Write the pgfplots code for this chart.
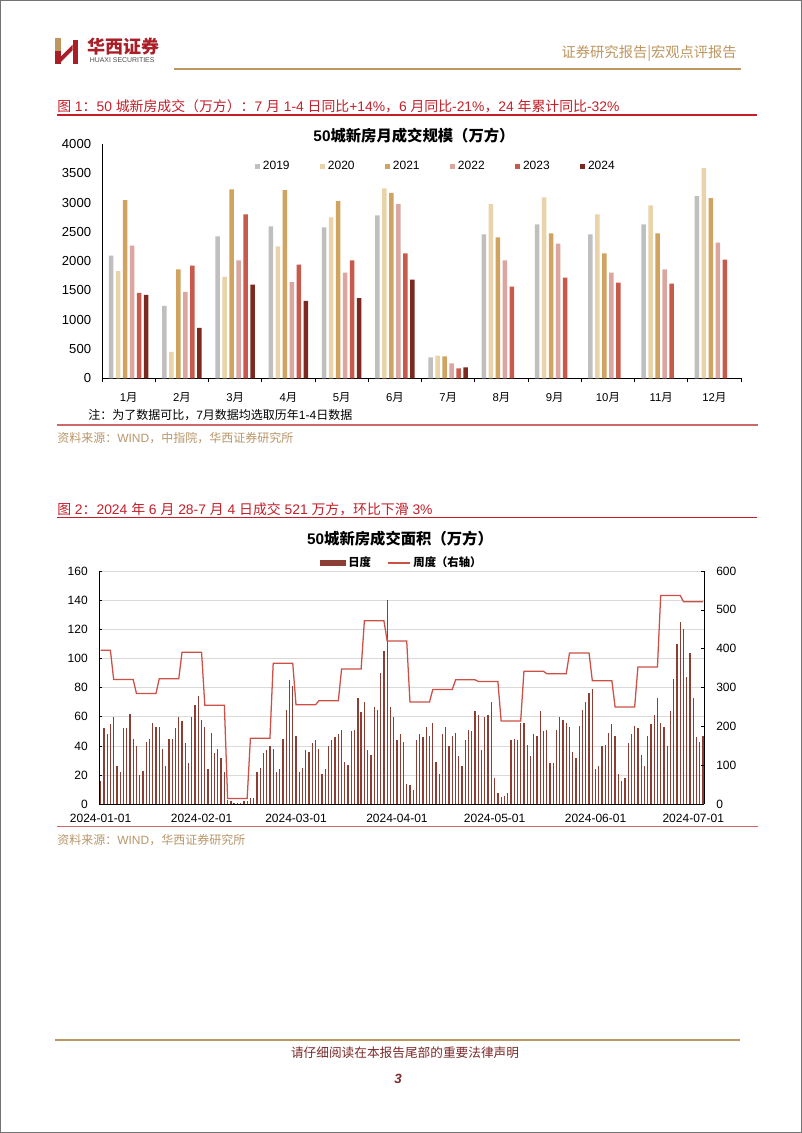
\documentclass[border=0pt]{standalone}
\usepackage{fontspec}
\setmainfont{Liberation Sans}
\newfontfamily\cjk{Noto Sans CJK SC}
\usepackage{pgfplots}
\pgfplotsset{compat=1.18}
\newcommand{\C}[1]{{\cjk #1}}

\definecolor{c19}{RGB}{191,191,191}
\definecolor{c20}{RGB}{233,211,168}
\definecolor{c21}{RGB}{208,164,96}
\definecolor{c22}{RGB}{219,166,160}
\definecolor{c23}{RGB}{200,90,76}
\definecolor{c24}{RGB}{124,42,32}
\definecolor{titlered}{RGB}{196,30,40}
\definecolor{linered}{RGB}{205,105,105}
\definecolor{gold}{RGB}{190,150,95}
\definecolor{srctan}{RGB}{185,150,105}
\definecolor{daybar}{RGB}{138,62,52}
\definecolor{weekline}{RGB}{205,80,70}
\definecolor{logored}{RGB}{170,30,40}
\definecolor{footred}{RGB}{125,40,40}
\definecolor{gridgray}{RGB}{217,217,217}

\pgfplotsset{sq/.style={legend image code/.code={\fill[#1] (0pt,-1.9pt) rectangle (3.75pt,1.9pt);}}}

\begin{document}
\begin{tikzpicture}[x=0.75pt,y=0.75pt]
\useasboundingbox (0,0) rectangle (802,1133);
\fill[white] (0,0) rectangle (802,1133);
\draw[black!55, line width=0.9pt] (0.6,0.6) rectangle (801.4,1132.4);

% logo
\fill[gold] (55,1095) rectangle (60.5,1082);
\fill[logored] (55,1082) rectangle (60.5,1069);
\fill[logored] (72.5,1093) rectangle (78,1069);
\fill[logored] (60.5,1076) -- (72.5,1088) -- (72.5,1082.5) -- (60.5,1070.5) -- cycle;
\node[anchor=west, inner sep=0, text=logored, font=\cjk\bfseries\fontsize{13.5}{14}\selectfont] at (87,1086.5) {华西证券};
\node[anchor=west, inner sep=0, text=black!70, font=\fontsize{5.2}{6}\selectfont] at (89.5,1072.5) {HUAXI SECURITIES};
\node[anchor=east, inner sep=0, text=gold, font=\cjk\fontsize{10.7}{12}\selectfont] at (737,1079.5) {证券研究报告|宏观点评报告};
\draw[gold, line width=1.3pt] (174,1063.7) -- (741,1063.7);

% figure 1 heading
\node[anchor=west, inner sep=0, text=titlered, font=\fontsize{10.4}{12}\selectfont] at (57,1027) {\C{图} 1\C{：}50 \C{城新房成交（万方）：}7 \C{月} 1-4 \C{日同比}+14\%\C{，}6 \C{月同比}-21\%\C{，}24 \C{年累计同比}-32\%};
\draw[titlered, line width=0.8pt] (57,1018) -- (757,1018);
\node[font=\bfseries\fontsize{11.5}{13}\selectfont] at (414,997) {50\C{城新房月成交规模（万方）}};

\begin{axis}[
  at={(76.5pt,566.025pt)}, anchor=south west,
  scale only axis, width=479.25pt, height=175.7pt,
  xmin=-0.5, xmax=11.5, ymin=0, ymax=4000,
  ybar=1.85pt, bar width=3.4pt,
  axis x line*=bottom, axis y line*=left,
  axis line style={black, line width=0.6pt},
  xtick={0,...,11},
  xticklabels={1\C{月},2\C{月},3\C{月},4\C{月},5\C{月},6\C{月},7\C{月},8\C{月},9\C{月},10\C{月},11\C{月},12\C{月}},
  minor xtick={-0.5,0.5,...,11.5},
  major x tick style={draw=none},
  minor x tick style={black, line width=0.6pt},
  minor tick length=3pt,
  tick align=outside,
  ytick={0,500,...,4000},
  major y tick style={draw=none},
  /pgf/number format/1000 sep={},
  /pgf/number format/assume math mode=true,
  yticklabel style={anchor=east, inner sep=0pt, xshift=-3.75pt, font=\fontsize{9.8}{11}\selectfont},
  xticklabel style={anchor=center, inner sep=0pt, yshift=-10.5pt, font=\fontsize{8.5}{10}\selectfont},
  legend columns=6,
  legend style={at={(0.2394,0.906)}, anchor=west, draw=none, fill=none, inner sep=0pt,
    font=\fontsize{9}{10}\selectfont, /tikz/every even column/.append style={column sep=21pt}},
]
\addplot[fill=c19, draw=none, sq=c19] coordinates {(0,2094) (1,1235) (2,2424) (3,2595) (4,2578) (5,2782) (6,358) (7,2458) (8,2629) (9,2458) (10,2629) (11,3112)};
\addlegendentry{2019}
\addplot[fill=c20, draw=none, sq=c20] coordinates {(0,1832) (1,450) (2,1730) (3,2253) (4,2748) (5,3243) (6,387) (7,2976) (8,3090) (9,2800) (10,2953) (11,3590)};
\addlegendentry{2020}
\addplot[fill=c21, draw=none, sq=c21] coordinates {(0,3044) (1,1861) (2,3226) (3,3215) (4,3027) (5,3164) (6,376) (7,2407) (8,2475) (9,2134) (10,2475) (11,3078)};
\addlegendentry{2021}
\addplot[fill=c22, draw=none, sq=c22] coordinates {(0,2265) (1,1474) (2,2014) (3,1644) (4,1804) (5,2976) (6,256) (7,2014) (8,2299) (9,1804) (10,1861) (11,2316)};
\addlegendentry{2022}
\addplot[fill=c23, draw=none, sq=c23] coordinates {(0,1457) (1,1923) (2,2800) (3,1940) (4,2014) (5,2134) (6,171) (7,1565) (8,1718) (9,1633) (10,1616) (11,2026)};
\addlegendentry{2023}
\addplot[fill=c24, draw=none, sq=c24] coordinates {(0,1423) (1,859) (2,1599) (3,1320) (4,1371) (5,1684) (6,188)};
\addlegendentry{2024}
\end{axis}

\node[anchor=west, inner sep=0, font=\fontsize{9}{10}\selectfont] at (88,718) {\C{注：为了数据可比，}7\C{月数据均选取历年}1-4\C{日数据}};
\draw[linered, line width=1.2pt] (57,708) -- (758,708);
\node[anchor=west, inner sep=0, text=srctan, font=\fontsize{9}{10}\selectfont] at (57,694.5) {\C{资料来源：}WIND\C{，中指院，华西证券研究所}};

% figure 2 heading
\node[anchor=west, inner sep=0, text=titlered, font=\fontsize{10.4}{12}\selectfont] at (57,624) {\C{图} 2\C{：}2024 \C{年} 6 \C{月} 28-7 \C{月} 4 \C{日成交} 521 \C{万方，环比下滑} 3\%};
\draw[titlered, line width=0.8pt] (57,615.7) -- (757,615.7);
\node[font=\bfseries\fontsize{11.5}{13}\selectfont] at (400,594) {50\C{城新房成交面积（万方）}};

\begin{axis}[
  at={(74.25pt,246.525pt)}, anchor=south west,
  scale only axis, width=453.75pt, height=175pt,
  xmin=-0.5, xmax=185.3, ymin=0, ymax=160,
  axis x line*=bottom, axis y line*=left,
  axis line style={black, line width=0.6pt},
  ytick={0,20,...,160},
  ymajorgrids, grid style={gridgray, line width=0.6pt},
  xtick={0,31,60,91,121,152,182},
  xticklabels={2024-01-01,2024-02-01,2024-03-01,2024-04-01,2024-05-01,2024-06-01,2024-07-01},
  major x tick style={draw=none},
  y tick style={black, line width=0.5pt},
  major tick length=2.5pt, tick align=inside,
  /pgf/number format/1000 sep={},
  /pgf/number format/assume math mode=true,
  yticklabel style={anchor=east, inner sep=0pt, xshift=-8.25pt, font=\fontsize{9}{10}\selectfont},
  xticklabel style={anchor=center, inner sep=0pt, yshift=-10.3pt, font=\fontsize{9}{10}\selectfont},
]
\addplot[ycomb, daybar, line width=0.95pt, mark=none] coordinates {
(0,16) (1,52) (2,48) (3,55) (4,60) (5,26) (6,22) (7,52) (8,52) (9,62)
(10,45) (11,40) (12,20) (13,23) (14,43) (15,45) (16,56) (17,53) (18,53) (19,38)
(20,26) (21,45) (22,45) (23,52) (24,60) (25,57) (26,42) (27,28) (28,60) (29,68)
(30,74) (31,58) (32,53) (33,24) (34,49) (35,35) (36,38) (37,32) (38,22) (39,3)
(40,2) (41,1) (42,1) (43,1) (44,2) (45,2) (46,4) (47,4) (48,22) (49,25)
(50,35) (51,37) (52,40) (53,38) (54,22) (55,24) (56,45) (57,65) (58,85) (59,81)
(60,47) (61,22) (62,25) (63,37) (64,36) (65,42) (66,44) (67,38) (68,21) (69,24)
(70,40) (71,44) (72,46) (73,48) (74,51) (75,29) (76,27) (77,50) (78,51) (79,73)
(80,63) (81,70) (82,37) (83,34) (84,67) (85,65) (86,90) (87,105) (88,140) (89,67)
(90,60) (91,44) (92,48) (93,43) (94,14) (95,13) (96,10) (97,44) (98,48) (99,46)
(100,53) (101,47) (102,56) (103,29) (104,21) (105,48) (106,53) (107,40) (108,47) (109,49)
(110,33) (111,26) (112,44) (113,51) (114,50) (115,64) (116,61) (117,37) (118,60) (119,61)
(120,70) (121,18) (122,8) (123,5) (124,6) (125,8) (126,44) (127,45) (128,44) (129,56)
(130,56) (131,41) (132,33) (133,48) (134,47) (135,64) (136,50) (137,51) (138,28) (139,28)
(140,51) (141,60) (142,58) (143,56) (144,53) (145,36) (146,32) (147,54) (148,65) (149,70)
(150,76) (151,79) (152,24) (153,26) (154,40) (155,41) (156,49) (157,55) (158,47) (159,21)
(160,16) (161,18) (162,42) (163,48) (164,54) (165,52) (166,34) (167,26) (168,47) (169,55)
(170,61) (171,73) (172,56) (173,53) (174,40) (175,64) (176,86) (177,110) (178,125) (179,120)
(180,87) (181,104) (182,73) (183,46) (184,43) (185,47)};
\end{axis}

\begin{axis}[
  at={(74.25pt,246.525pt)}, anchor=south west,
  scale only axis, width=453.75pt, height=175pt,
  xmin=-0.5, xmax=185.3, ymin=0, ymax=600,
  axis x line=none, axis y line*=right,
  axis line style={black, line width=0.6pt},
  ytick={0,100,...,600},
  y tick style={black, line width=0.5pt},
  major tick length=2.5pt, tick align=inside,
  /pgf/number format/1000 sep={},
  /pgf/number format/assume math mode=true,
  yticklabel style={anchor=west, inner sep=0pt, xshift=9pt, font=\fontsize{9}{10}\selectfont},
  legend columns=2,
  legend style={at={(0.365,1.034)}, anchor=west, draw=none, fill=none, inner sep=0pt,
    font=\cjk\bfseries\fontsize{8.5}{10}\selectfont, /tikz/every even column/.append style={column sep=10pt}},
]
\addlegendimage{legend image code/.code={\fill[daybar] (0pt,-2pt) rectangle (18.75pt,2pt);}}
\addlegendentry{日度}
\addplot[weekline, line width=0.95pt, mark=none, legend image code/.code={\draw[weekline, line width=0.9pt] (0pt,0pt) -- (17pt,0pt);}] coordinates {
(0,396) (3,396) (4,321) (10,321) (11,285) (17,285) (18,323) (24,323) (25,391) (31,391)
(32,255) (38,255) (39,15) (45,15) (46,170) (52,170) (53,363) (59,363) (60,256) (66,256)
(67,266) (73,266) (74,348) (80,348) (81,472) (87,472) (88,420) (94,420) (95,263) (101,263)
(102,295) (108,295) (109,320) (115,320) (116,316) (122,316) (123,214) (129,214) (130,342) (136,342)
(137,336) (143,336) (144,389) (150,389) (151,318) (157,318) (158,250) (164,250) (165,353) (171,353)
(172,537) (178,537) (179,521) (185,521)};
\addlegendentry{周度（右轴）}
\end{axis}

\draw[linered, line width=1.2pt] (57,306.3) -- (758,306.3);
\node[anchor=west, inner sep=0, text=srctan, font=\fontsize{9}{10}\selectfont] at (57,293) {\C{资料来源：}WIND\C{，华西证券研究所}};

% footer
\draw[gold, line width=1.7pt] (55,93) -- (740,93);
\node[text=footred, font=\cjk\fontsize{9.5}{11}\selectfont] at (405,80.5) {请仔细阅读在本报告尾部的重要法律声明};
\node[text=footred, font=\bfseries\itshape\fontsize{10}{11}\selectfont] at (398,54.5) {3};
\end{tikzpicture}
\end{document}
